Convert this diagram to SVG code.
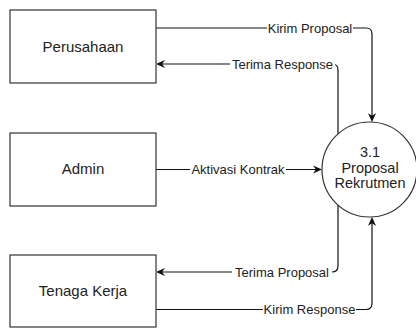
<svg xmlns="http://www.w3.org/2000/svg" width="416" height="328" viewBox="0 0 416 328">
  <style>
    .entity { fill: #ffffff; stroke: #333333; stroke-width: 1.2; }
    .process { fill: #ffffff; stroke: #333333; stroke-width: 1.2; }
    .name { font-family: "Liberation Sans", Arial, sans-serif; font-size: 15px; fill: #222222; text-anchor: middle; }
    .pname { font-family: "Liberation Sans", Arial, sans-serif; font-size: 14.5px; fill: #222222; text-anchor: middle; }
    .flow { fill: none; stroke: #111111; stroke-width: 1.2; }
    .lbl { font-family: "Liberation Sans", Arial, sans-serif; font-size: 13px; fill: #222222; text-anchor: middle; }
    .lblbg { fill: #ffffff; }
  </style>
  <defs>
    <marker id="arrow" viewBox="0 0 10 10" refX="6" refY="5" markerWidth="9" markerHeight="9" markerUnits="userSpaceOnUse" orient="auto">
      <path d="M0,0.5 L10,5 L0,9.5 L3,5 Z" fill="#111111"/>
    </marker>
  </defs>

  <rect width="416" height="328" fill="#ffffff"/>

  <!-- data flows -->
  <g id="connectors">
    <path class="flow" d="M156,28 H366 Q372,28 372,34 V118.5" marker-end="url(#arrow)"/>
    <path class="flow" d="M338,134 V70 Q338,64 332,64 H159.5" marker-end="url(#arrow)"/>
    <path class="flow" d="M156,169.5 H318.5" marker-end="url(#arrow)"/>
    <path class="flow" d="M338,205 V266 Q338,272 332,272 H159.5" marker-end="url(#arrow)"/>
    <path class="flow" d="M156,309.5 H366 Q372,309.5 372,303.5 V220.5" marker-end="url(#arrow)"/>

    <rect class="lblbg" x="267" y="21" width="86" height="14"/>
    <text class="lbl" x="310" y="32.5">Kirim Proposal</text>
    <rect class="lblbg" x="230" y="57" width="105" height="14"/>
    <text class="lbl" x="282.5" y="68.5">Terima Response</text>
    <rect class="lblbg" x="190" y="162.5" width="96" height="14"/>
    <text class="lbl" x="238" y="174">Aktivasi Kontrak</text>
    <rect class="lblbg" x="232" y="265" width="100" height="14"/>
    <text class="lbl" x="282" y="276.5">Terima Proposal</text>
    <rect class="lblbg" x="263" y="302.5" width="93" height="14"/>
    <text class="lbl" x="309.5" y="314">Kirim Response</text>
  </g>

  <!-- external entities -->
  <g id="perusahaan">
    <rect class="entity" x="10" y="10" width="146" height="73"/>
    <text class="name" x="83" y="51.5">Perusahaan</text>
  </g>
  <g id="admin">
    <rect class="entity" x="10" y="133" width="146" height="73"/>
    <text class="name" x="83" y="174">Admin</text>
  </g>
  <g id="tenaga-kerja">
    <rect class="entity" x="10" y="255" width="146" height="72"/>
    <text class="name" x="83" y="296">Tenaga Kerja</text>
  </g>

  <!-- process -->
  <g id="proses-3-1">
    <circle class="process" cx="369.5" cy="169.5" r="47.5"/>
    <text class="pname" x="370" y="157">3.1</text>
    <text class="pname" x="370" y="172.5">Proposal</text>
    <text class="pname" x="370" y="187.8">Rekrutmen</text>
  </g>
</svg>
